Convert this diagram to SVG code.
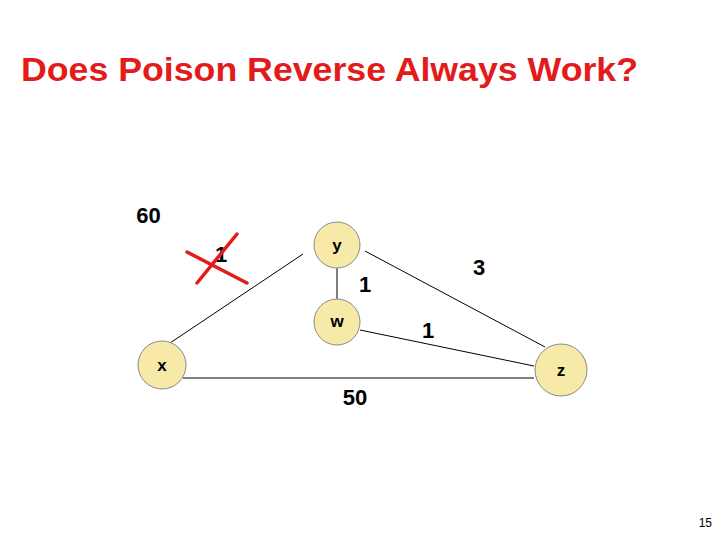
<svg xmlns="http://www.w3.org/2000/svg" width="720" height="540" viewBox="0 0 720 540">
<style>
.node{fill:#f7eaa8;stroke:#888;stroke-width:1}
.nl{font-family:"Liberation Sans",Arial,sans-serif;font-weight:bold;font-size:17px;fill:#000;text-anchor:middle}
.el{font-family:"Liberation Sans",Arial,sans-serif;font-weight:bold;font-size:22px;fill:#000;text-anchor:middle}
.edge{stroke:#000;stroke-width:1;fill:none}
</style>
<rect width="720" height="540" fill="#fff"/>
<text x="21" y="81" font-family="Liberation Sans,Arial,sans-serif" font-weight="bold" font-size="33" fill="#e21b1b" textLength="617" lengthAdjust="spacingAndGlyphs">Does Poison Reverse Always Work?</text>
<g id="connectors">
<line class="edge" x1="170" y1="343" x2="303" y2="254"/>
<line class="edge" x1="337" y1="268" x2="337" y2="299"/>
<line class="edge" x1="365" y1="251" x2="545" y2="347"/>
<line class="edge" x1="360" y1="330" x2="534" y2="366"/>
<line class="edge" x1="183" y1="378" x2="534" y2="378"/>
</g>
<g id="labels">
<text class="el" x="148.5" y="223" font-size="25">60</text>
<text class="el" x="221" y="262" font-size="20">1</text>
<text class="el" x="479" y="275">3</text>
<text class="el" x="365" y="292">1</text>
<text class="el" x="428" y="338">1</text>
<text class="el" x="355" y="405">50</text>
</g>
<g id="cross" stroke="#e21b1b" stroke-width="3.5" stroke-linecap="round">
<line x1="187" y1="252" x2="247" y2="283"/>
<line x1="197" y1="283" x2="237" y2="234"/>
</g>
<g id="node-y"><circle class="node" cx="337" cy="245" r="23"/><text class="nl" x="337" y="251">y</text></g>
<g id="node-w"><circle class="node" cx="337" cy="322" r="23"/><text class="nl" x="337" y="327">w</text></g>
<g id="node-x"><circle class="node" cx="162" cy="365" r="24"/><text class="nl" x="162" y="371">x</text></g>
<g id="node-z"><circle class="node" cx="561" cy="370" r="26"/><text class="nl" x="561" y="376">z</text></g>
<text x="712" y="527" font-family="Liberation Sans,Arial,sans-serif" font-size="12" fill="#000" text-anchor="end">15</text>
</svg>
